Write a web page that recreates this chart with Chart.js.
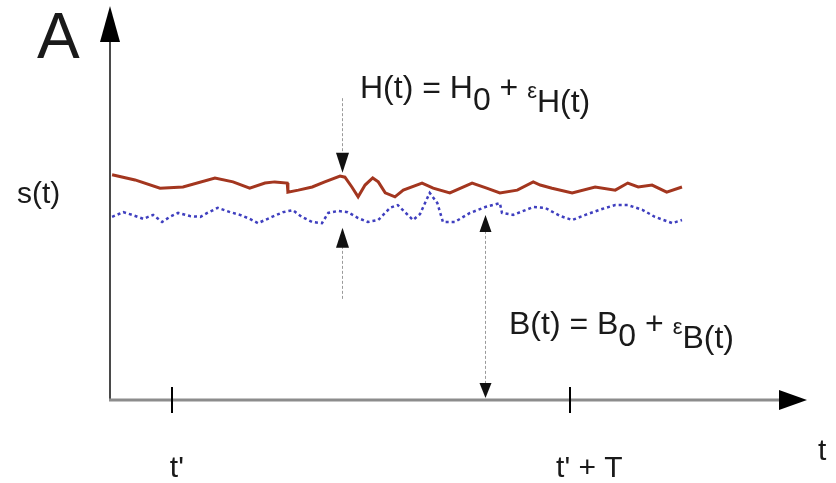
<!DOCTYPE html>
<html>
<head>
<meta charset="utf-8">
<script src="https://cdn.jsdelivr.net/npm/chart.js@4/dist/chart.umd.min.js"></script>
<style>
  body { margin: 0; background: #fff; }
  #wrap { width: 836px; height: 483px; }
</style>
</head>
<body>
<div id="wrap"><canvas id="sig" width="836" height="483"></canvas></div>
<script>
// time axis runs 0..100, signal axis 0..100 (arbitrary units)
const hTime = [0.3, 3.6, 7.2, 10.5, 15.1, 17.7, 20.1, 22.3, 23.7, 25.5, 25.6, 27.1, 29.1, 30.9, 33.1, 33.8,
  34.8, 35.7, 36.7, 37.8, 38.6, 39.6, 41.0, 42.2, 44.9, 46.5, 48.9, 52.1, 54.2, 56.1, 58.6, 60.9, 61.9,
  63.6, 66.5, 69.8, 72.7, 74.5, 76.0, 78.0, 80.1, 82.3];
const hValues = [57.3, 56.0, 53.9, 54.2, 56.5, 55.5, 53.9, 55.2, 55.5, 55.2, 52.9, 53.4, 54.2, 55.5, 57.0, 56.7,
  54.2, 51.7, 54.7, 56.5, 55.5, 52.7, 51.7, 53.4, 55.2, 53.9, 52.7, 55.2, 53.9, 52.7, 53.4, 55.5, 54.7,
  53.9, 52.7, 54.2, 53.4, 55.2, 54.2, 54.7, 52.9, 54.2];

const bTime = [0.3, 1.9, 3.2, 4.8, 6.2, 7.5, 8.6, 9.8, 11.5, 13.0, 14.0, 15.5, 17.3, 18.7, 20.1, 21.3, 23.3,
  24.9, 26.3, 27.6, 29.1, 30.5, 31.4, 32.8, 34.2, 35.7, 37.1, 38.6, 40.3, 41.4, 43.6, 44.6, 46.0, 47.1,
  47.9, 49.6, 51.8, 54.0, 56.1, 56.4, 58.0, 60.9, 62.6, 64.8, 66.5, 68.4, 70.8, 72.7, 74.5, 76.6, 78.4,
  80.9, 82.3];
const bValues = [46.6, 47.8, 47.1, 46.1, 47.1, 45.3, 46.6, 47.6, 46.8, 46.6, 47.6, 48.9, 47.8, 47.1, 46.1, 45.0,
  46.6, 47.8, 48.3, 46.6, 45.3, 45.0, 47.6, 48.1, 47.8, 46.3, 45.3, 45.8, 48.9, 49.6, 45.8, 47.3, 52.7,
  50.1, 45.3, 45.3, 47.6, 49.1, 50.1, 47.6, 47.1, 49.1, 48.9, 46.8, 45.8, 47.1, 48.6, 49.6, 49.6, 48.4,
  46.6, 45.0, 45.8];

const tickValues = [8.9, 66.2];
const tickLabels = ["t'", "t' + T"];

// annotation arrows: [time, from, to] in data units
const hArrowTime = 33.4;
const hArrowDown = [76.8, 57.8];
const hArrowUp = [25.4, 43.8];
const bArrowTime = 54.0;
const bArrowSpan = [0.5, 47.1];

const txt = '#1a1a1a';
const font = '"Liberation Sans", Arial, sans-serif';

function arrowHead(ctx, x, y, dir, len, half) {
  // dir: 'up' 'down' 'right'
  ctx.beginPath();
  if (dir === 'up') { ctx.moveTo(x, y); ctx.lineTo(x - half, y + len); ctx.lineTo(x + half, y + len); }
  if (dir === 'down') { ctx.moveTo(x, y); ctx.lineTo(x - half, y - len); ctx.lineTo(x + half, y - len); }
  if (dir === 'right') { ctx.moveTo(x, y); ctx.lineTo(x - len, y - half); ctx.lineTo(x - len, y + half); }
  ctx.closePath();
  ctx.fill();
}

function thinLine(ctx, x, y1, y2) {
  ctx.save();
  ctx.strokeStyle = '#9a9a9a';
  ctx.lineWidth = 1;
  ctx.setLineDash([3, 2]);
  ctx.beginPath();
  ctx.moveTo(x + 0.5, y1);
  ctx.lineTo(x + 0.5, y2);
  ctx.stroke();
  ctx.restore();
}

function richText(ctx, x, y, parts) {
  let cx = x;
  parts.forEach(p => {
    ctx.font = (p.size || 32) + 'px ' + font;
    ctx.fillText(p.t, cx, y + (p.dy || 0));
    cx += ctx.measureText(p.t).width;
  });
}

const axesPlugin = {
  id: 'axesPlugin',
  beforeDatasetsDraw(chart) {
    const { ctx, chartArea: a, scales: { x, y } } = chart;
    const x0 = x.getPixelForValue(0), y0 = y.getPixelForValue(0);
    ctx.save();
    // y axis
    ctx.strokeStyle = '#4a4a4a';
    ctx.lineWidth = 2;
    ctx.beginPath();
    ctx.moveTo(x0, y0);
    ctx.lineTo(x0, a.top + 20);
    ctx.stroke();
    ctx.fillStyle = '#000';
    arrowHead(ctx, x0, a.top - 1, 'up', 36, 10);
    // x axis
    ctx.strokeStyle = '#8c8c8c';
    ctx.lineWidth = 3;
    ctx.beginPath();
    ctx.moveTo(x0 - 1, y0);
    ctx.lineTo(a.right - 20, y0);
    ctx.stroke();
    arrowHead(ctx, a.right + 2, y0, 'right', 28, 10);
    // ticks
    ctx.strokeStyle = '#000';
    ctx.lineWidth = 2;
    tickValues.forEach(v => {
      const px = Math.round(x.getPixelForValue(v));
      ctx.beginPath();
      ctx.moveTo(px, y0 - 13);
      ctx.lineTo(px, y0 + 13);
      ctx.stroke();
    });
    ctx.restore();
  },
  afterDatasetsDraw(chart) {
    const { ctx, scales: { x, y } } = chart;
    ctx.save();
    ctx.fillStyle = '#111';
    // H(t) arrows
    const hx = Math.round(x.getPixelForValue(hArrowTime));
    const dTip = y.getPixelForValue(hArrowDown[1]);
    thinLine(ctx, hx, y.getPixelForValue(hArrowDown[0]), dTip - 18);
    arrowHead(ctx, hx + 0.5, dTip, 'down', 20, 6.5);
    const uTip = y.getPixelForValue(hArrowUp[1]);
    thinLine(ctx, hx, uTip + 18, y.getPixelForValue(hArrowUp[0]));
    arrowHead(ctx, hx + 0.5, uTip, 'up', 20, 6.5);
    // B(t) arrow
    const bx = Math.round(x.getPixelForValue(bArrowTime));
    const bTop = y.getPixelForValue(bArrowSpan[1]);
    const bBot = y.getPixelForValue(bArrowSpan[0]);
    thinLine(ctx, bx, bTop + 16, bBot - 14);
    arrowHead(ctx, bx + 0.5, bTop, 'up', 17, 6);
    arrowHead(ctx, bx + 0.5, bBot, 'down', 15, 6);

    // labels
    ctx.fillStyle = txt;
    ctx.textBaseline = 'alphabetic';
    ctx.font = '64px ' + font;
    ctx.fillText('A', 37, 58);
    ctx.font = '30px ' + font;
    ctx.fillText('s(t)', 17, 203);
    ctx.fillText('t', 818, 460);
    tickValues.forEach((v, i) => {
      const px = x.getPixelForValue(v);
      ctx.fillText(tickLabels[i], i === 0 ? px - 2 : px - 14, 477);
    });
    richText(ctx, 360, 98, [
      { t: 'H(t) = H' }, { t: '0', dy: 12 }, { t: ' + ' },
      { t: 'ε', size: 22 }, { t: 'H(t)', dy: 14 }
    ]);
    richText(ctx, 509, 334, [
      { t: 'B(t) = B' }, { t: '0', dy: 12 }, { t: ' + ' },
      { t: 'ε', size: 22 }, { t: 'B(t)', dy: 14 }
    ]);
    ctx.restore();
  }
};

new Chart(document.getElementById('sig'), {
  type: 'line',
  data: {
    datasets: [{
      label: 'H(t)',
      data: hTime.map((t, i) => ({ x: t, y: hValues[i] })),
      borderColor: '#a3361f',
      borderWidth: 3,
      pointRadius: 0,
      tension: 0
    }, {
      label: 'B(t)',
      data: bTime.map((t, i) => ({ x: t, y: bValues[i] })),
      borderColor: '#3f3fbf',
      borderWidth: 2.5,
      borderDash: [3, 3],
      pointRadius: 0,
      tension: 0
    }]
  },
  options: {
    responsive: false,
    animation: false,
    layout: { padding: { left: 110, right: 31, top: 7, bottom: 83 } },
    plugins: { legend: { display: false }, tooltip: { enabled: false } },
    scales: {
      x: { type: 'linear', min: 0, max: 100, display: false },
      y: { min: 0, max: 100, display: false }
    }
  },
  plugins: [axesPlugin]
});
</script>
</body>
</html>
